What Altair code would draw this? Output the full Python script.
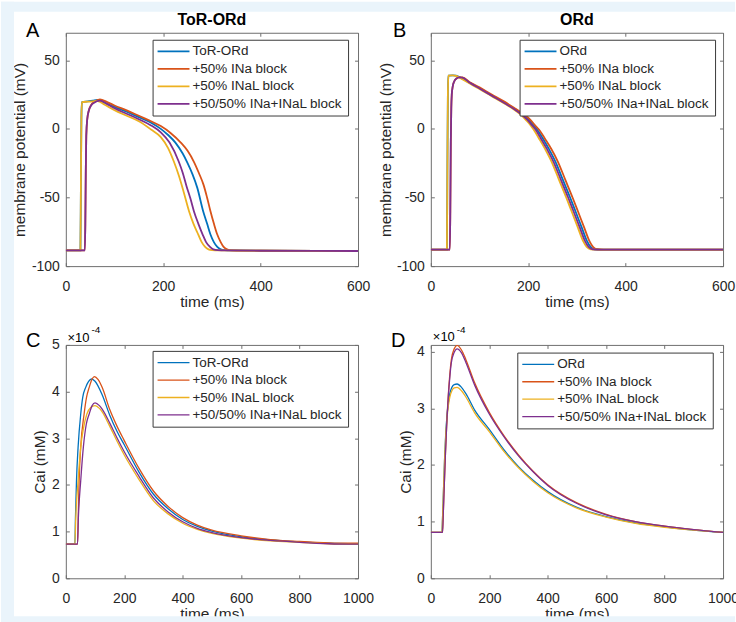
import altair as alt
import pandas as pd

FONT = "Liberation Sans"
TXT = "#262626"
BOX = "#6e6e6e"
BAND = "#EAF4FB"
COLORS = ["#0072BD", "#D95319", "#EDB120", "#7E2F8E"]
LABELS_TOR = ["ToR-ORd", "+50% INa block", "+50% INaL block", "+50/50% INa+INaL block"]
LABELS_ORD = ["ORd", "+50% INa block", "+50% INaL block", "+50/50% INa+INaL block"]

# ---------- Panel A : ToR-ORd action potential (mV) ----------
A_BLUE_T = [0, 30, 31, 32, 33, 45, 55, 65, 80, 100, 125, 150, 175, 195, 210, 225, 240, 250, 260, 270, 282, 290, 297, 304, 311, 318, 326, 340, 400, 600]
A_BLUE_V = [-88.5, -88.5, -40, 8, 19.5, 20, 20.5, 21, 19, 16, 12.5, 8.5, 4.5, 0, -4.5, -10, -18, -25, -33, -43, -60, -69, -77, -82.5, -86, -87.8, -88.4, -88.6, -88.8, -89]
A_ORANGE_T = [0, 39, 40, 41, 42, 44, 47, 52, 58, 70, 85, 100, 125, 150, 175, 195, 215, 236, 250, 263, 273, 283, 290, 297, 304, 311, 318, 324, 331, 340, 400, 600]
A_ORANGE_V = [-88.5, -88.5, -70, -30, -5, 7, 13, 17.5, 19.5, 21.5, 19.5, 17, 13.5, 9.5, 5.5, 2, -3, -10, -16, -24, -32, -41, -50, -60, -69, -77, -82.5, -86, -87.8, -88.5, -88.8, -89]
A_YELLOW_T = [0, 30, 31, 32, 33, 45, 55, 65, 80, 100, 125, 150, 175, 195, 210, 222, 232, 242, 253, 262, 272, 279, 286, 293, 300, 315, 400, 600]
A_YELLOW_V = [-88.5, -88.5, -40, 8, 19.5, 19.8, 20, 20.3, 17.5, 13.5, 9.5, 5.5, -0.5, -6, -14, -24, -34, -46, -60, -69, -77, -82.5, -86, -87.8, -88.4, -88.6, -88.8, -89]
A_PURPLE_T = [0, 39, 40, 41, 42, 44, 47, 52, 58, 70, 85, 100, 125, 150, 175, 195, 213, 232, 240, 248, 256, 263, 272, 281, 288, 296, 303, 312, 330, 400, 600]
A_PURPLE_V = [-88.5, -88.5, -70, -30, -5, 7, 13, 17, 19, 20.5, 18, 15, 11, 7, 2.5, -2.5, -10, -24, -32, -42, -51, -60, -69, -77, -82.5, -86, -87.8, -88.4, -88.6, -88.8, -89]

# ---------- Panel B : ORd action potential (mV) ----------
B_BLUE_T = [0, 33, 34, 35, 36, 45, 52, 60, 80, 100, 125, 150, 170, 188, 200, 211, 218, 230, 243, 256, 271, 286, 297, 310, 321, 328, 336, 350, 600]
B_BLUE_V = [-88, -88, -30, 25, 38.8, 39, 38.8, 37.5, 33.5, 29.7, 24.5, 19.4, 15, 10.5, 6.8, 2.5, -0.5, -7, -15, -24, -37, -50, -60, -72, -82, -86, -87.7, -88, -88]
B_ORANGE_T = [0, 39, 40, 41, 42, 43, 45, 48, 52, 58, 65, 80, 100, 125, 150, 170, 191, 204, 214, 222, 234, 248, 261, 276, 291, 302, 315, 326, 333, 341, 355, 600]
B_ORANGE_V = [-88, -88, -60, -10, 15, 25, 31, 34.5, 36.5, 37.5, 37.5, 34, 30.2, 25, 20, 15.5, 10.5, 6.8, 2.5, -0.5, -7, -15, -24, -37, -50, -60, -72, -82, -86, -87.7, -88, -88]
B_YELLOW_T = [0, 33, 34, 35, 36, 45, 52, 60, 80, 100, 125, 150, 170, 184, 195, 205, 211, 222, 235, 248, 263, 278, 289, 302, 313, 320, 328, 343, 600]
B_YELLOW_V = [-88, -88, -30, 25, 38.8, 39, 38.6, 37, 33, 29, 23.8, 18.7, 14.3, 10.5, 6.5, 2.5, -0.5, -7, -15, -24, -37, -50, -60, -72, -82, -86, -87.7, -88, -88]
B_PURPLE_T = [0, 39, 40, 41, 42, 43, 45, 48, 52, 58, 65, 80, 100, 125, 150, 170, 186, 198, 208, 215, 226, 239, 252, 267, 282, 293, 306, 317, 324, 332, 346, 600]
B_PURPLE_V = [-88, -88, -60, -10, 15, 25, 31, 34.5, 36.5, 37.5, 37.3, 33.5, 29.4, 24.2, 19, 14.6, 10.5, 6.8, 2.5, -0.5, -7, -15, -24, -37, -50, -60, -72, -82, -86, -87.7, -88, -88]

# ---------- Panel C : ToR-ORd Cai (x 1e-4 mM) ----------
C_BLUE_T = [0, 31, 33, 36.5, 42, 51, 58, 68, 78, 88, 100, 125, 150, 175, 200, 250, 300, 350, 400, 450, 500, 600, 700, 800, 900, 1000]
C_BLUE_V = [0.73, 0.73, 1.3, 2.09, 2.81, 3.52, 3.88, 4.09, 4.22, 4.27, 4.22, 3.92, 3.5, 3.15, 2.86, 2.28, 1.8, 1.49, 1.26, 1.11, 1.01, 0.89, 0.82, 0.78, 0.75, 0.74]
C_ORANGE_T = [0, 40, 42, 45.5, 51, 62.6, 71, 80, 90, 98, 110, 125, 150, 175, 200, 250, 300, 350, 400, 450, 500, 600, 700, 800, 900, 1000]
C_ORANGE_V = [0.73, 0.73, 1.2, 2.09, 2.81, 3.52, 3.88, 4.09, 4.27, 4.32, 4.26, 4.08, 3.62, 3.26, 2.95, 2.36, 1.87, 1.54, 1.3, 1.14, 1.03, 0.91, 0.83, 0.79, 0.76, 0.75]
C_YELLOW_T = [0, 31, 34, 42, 51, 60, 72, 85, 100, 115, 125, 150, 175, 200, 250, 300, 350, 400, 450, 500, 600, 700, 800, 900, 1000]
C_YELLOW_V = [0.73, 0.73, 1.3, 2.09, 2.81, 3.2, 3.52, 3.66, 3.7, 3.64, 3.56, 3.26, 2.94, 2.64, 2.12, 1.66, 1.38, 1.18, 1.05, 0.96, 0.86, 0.8, 0.77, 0.74, 0.73]
C_PURPLE_T = [0, 40, 43, 51, 60, 70, 80, 90, 100, 115, 125, 150, 175, 200, 250, 300, 350, 400, 450, 500, 600, 700, 800, 900, 1000]
C_PURPLE_V = [0.73, 0.73, 1.3, 2.09, 2.81, 3.3, 3.52, 3.7, 3.76, 3.7, 3.62, 3.33, 3.01, 2.71, 2.19, 1.72, 1.42, 1.21, 1.07, 0.98, 0.87, 0.81, 0.77, 0.74, 0.73]

# ---------- Panel D : ORd Cai (x 1e-4 mM) ----------
D_BLUE_T = [0, 38, 40, 43, 47, 51, 55, 60, 65, 72, 80, 90, 105, 120, 150, 200, 250, 300, 350, 400, 500, 600, 700, 800, 900, 1000]
D_BLUE_V = [0.81, 0.81, 1.05, 1.5, 2.1, 2.55, 2.85, 3.1, 3.26, 3.37, 3.42, 3.43, 3.37, 3.26, 2.97, 2.63, 2.27, 1.97, 1.73, 1.53, 1.25, 1.09, 0.98, 0.91, 0.85, 0.81]
D_ORANGE_T = [0, 40, 42, 45, 50, 55, 60, 65, 70, 80, 90, 105, 120, 150, 200, 250, 300, 350, 400, 500, 600, 700, 800, 900, 1000]
D_ORANGE_V = [0.81, 0.81, 1.05, 1.5, 2.2, 2.8, 3.25, 3.6, 3.85, 4.05, 4.11, 4.03, 3.86, 3.45, 2.93, 2.52, 2.18, 1.89, 1.65, 1.33, 1.13, 1.0, 0.92, 0.86, 0.81]
D_YELLOW_T = [0, 38, 40, 43, 47, 51, 55, 60, 65, 72, 80, 90, 105, 120, 150, 200, 250, 300, 350, 400, 500, 600, 700, 800, 900, 1000]
D_YELLOW_V = [0.81, 0.81, 1.05, 1.5, 2.08, 2.52, 2.8, 3.05, 3.2, 3.31, 3.36, 3.37, 3.31, 3.2, 2.92, 2.59, 2.24, 1.95, 1.71, 1.51, 1.24, 1.08, 0.97, 0.9, 0.85, 0.81]
D_PURPLE_T = [0, 40, 42, 45, 50, 55, 60, 65, 70, 80, 90, 105, 120, 150, 200, 250, 300, 350, 400, 500, 600, 700, 800, 900, 1000]
D_PURPLE_V = [0.81, 0.81, 1.05, 1.5, 2.2, 2.78, 3.22, 3.55, 3.8, 3.99, 4.05, 3.98, 3.81, 3.41, 2.9, 2.5, 2.16, 1.88, 1.64, 1.32, 1.12, 1.0, 0.92, 0.86, 0.81]

AP_X_TICKS = [0, 200, 400, 600]
AP_Y_TICKS = [-100, -50, 0, 50]
CA_X_TICKS = [0, 200, 400, 600, 800, 1000]
C_Y_TICKS = [0, 1, 2, 3, 4, 5]
D_Y_TICKS = [0, 1, 2, 3, 4]

W, H = 293, 234
ONE = pd.DataFrame({"z": [0]})
PLAIN = "datum.value + ''"


def make_df(labels, series):
    rows = []
    for lab, (ts, vs) in zip(labels, series):
        for t, v in zip(ts, vs):
            rows.append({"t": t, "v": v, "s": lab})
    return pd.DataFrame(rows)


def text_layer(txt, x, y, size, weight="normal", align="left"):
    return alt.Chart(ONE).mark_text(
        text=txt, fontSize=size, fontWeight=weight, align=align,
        baseline="alphabetic", color="black", font=FONT
    ).encode(x=alt.value(x), y=alt.value(y))


def panel(labels, series, xdom, xticks, ydom, yticks, ytitle, ytitle_x, lw, leg_xy, extras):
    df = make_df(labels, series)
    color = alt.Color(
        "s:N",
        scale=alt.Scale(domain=labels, range=COLORS),
        legend=alt.Legend(
            title=None, orient="none", legendX=leg_xy[0], legendY=leg_xy[1],
            direction="vertical", symbolType="M-4,0H4", symbolSize=64,
            symbolStrokeWidth=lw, symbolOffset=9.25, labelOffset=12.2,
            labelFontSize=13.5, labelFont=FONT, labelColor=TXT, labelLimit=400,
            padding=5, rowPadding=2.5, strokeColor="#3a3a3a", fillColor="white",
        ),
    )
    x = alt.X(
        "t:Q", scale=alt.Scale(domain=xdom, nice=False, zero=False),
        axis=alt.Axis(values=xticks, title="time (ms)", titleX=W / 2, titleY=40.5,
                      titleBaseline="alphabetic", labelPadding=13.5, labelExpr=PLAIN,
                      gridDash=[3.5, H - 7, 3.5, H]),
    )
    y = alt.Y(
        "v:Q", scale=alt.Scale(domain=ydom, nice=False, zero=False),
        axis=alt.Axis(values=yticks, title=ytitle, titleX=ytitle_x, titleY=H / 2,
                      titleBaseline="middle", labelPadding=6.5, labelExpr=PLAIN,
                      gridDash=[3.5, W - 7, 3.5, W]),
    )
    layers = []
    for lab in labels:
        layers.append(
            alt.Chart(df).transform_filter(alt.datum.s == lab)
            .mark_line(strokeWidth=lw, interpolate="monotone", clip=True)
            .encode(x=x, y=y, color=color)
        )
    return alt.layer(*layers, *extras).properties(width=W, height=H)


pA = panel(LABELS_TOR, [(A_BLUE_T, A_BLUE_V), (A_ORANGE_T, A_ORANGE_V), (A_YELLOW_T, A_YELLOW_V), (A_PURPLE_T, A_PURPLE_V)],
           [0, 600], AP_X_TICKS, [-100, 70], AP_Y_TICKS, "membrane potential (mV)", -46.5, 1.8, (87, 7),
           [text_layer("ToR-ORd", W / 2, -7.7, 16, "bold", "center"), text_layer("A", -40, 4.3, 20)])
pB = panel(LABELS_ORD, [(B_BLUE_T, B_BLUE_V), (B_ORANGE_T, B_ORANGE_V), (B_YELLOW_T, B_YELLOW_V), (B_PURPLE_T, B_PURPLE_V)],
           [0, 600], AP_X_TICKS, [-100, 70], AP_Y_TICKS, "membrane potential (mV)", -45.8, 1.8, (89, 7),
           [text_layer("ORd", W / 2, -7.7, 16, "bold", "center"), text_layer("B", -38, 4.3, 20)])
pC = panel(LABELS_TOR, [(C_BLUE_T, C_BLUE_V), (C_ORANGE_T, C_ORANGE_V), (C_YELLOW_T, C_YELLOW_V), (C_PURPLE_T, C_PURPLE_V)],
           [0, 1000], CA_X_TICKS, [0, 5], C_Y_TICKS, "Cai (mM)", -26, 1.3, (87, 6),
           [text_layer("×10", 1.7, -3.3, 13), text_layer("-4", 25.7, -12.3, 10), text_layer("C", -40, 2, 20)])

bands = [
    alt.Chart(ONE).mark_rect(color=BAND).encode(x=alt.value(-431), x2=alt.value(-418), y=alt.value(-344), y2=alt.value(278)),
    alt.Chart(ONE).mark_rect(color=BAND).encode(x=alt.value(-431), x2=alt.value(305), y=alt.value(-344), y2=alt.value(-334)),
    alt.Chart(ONE).mark_rect(color=BAND).encode(x=alt.value(-431), x2=alt.value(305), y=alt.value(272), y2=alt.value(278)),
]
pD = panel(LABELS_ORD, [(D_BLUE_T, D_BLUE_V), (D_ORANGE_T, D_ORANGE_V), (D_YELLOW_T, D_YELLOW_V), (D_PURPLE_T, D_PURPLE_V)],
           [0, 1000], CA_X_TICKS, [0, 4.12], D_Y_TICKS, "Cai (mM)", -25.8, 1.3, (86.7, 7.7),
           [text_layer("×10", 2, -3.7, 13), text_layer("-4", 26, -12.3, 10), text_layer("D", -40, 2, 20)] + bands)

chart = (
    alt.concat(pA, pB, pC, pD, columns=2, spacing={"row": 79, "column": 73}, bounds="flush")
    .resolve_scale(color="independent", x="independent", y="independent")
    .resolve_legend(color="independent")
    .properties(padding={"left": 0, "top": 0, "right": -4, "bottom": -2}, background="white")
    .configure(font=FONT)
    .configure_view(stroke=BOX, strokeWidth=1)
    .configure_axis(
        grid=True, gridColor=BOX, gridWidth=1, gridOpacity=1, domain=False, ticks=False, tickSize=0,
        labelFontSize=14, labelColor=TXT, labelFont=FONT, labelFlush=False, labelOverlap=False,
        titleFontSize=15.5, titleFontWeight="normal", titleColor=TXT, titleFont=FONT,
    )
)

chart.save("out.html", embed_options={"renderer": "svg", "actions": False})
